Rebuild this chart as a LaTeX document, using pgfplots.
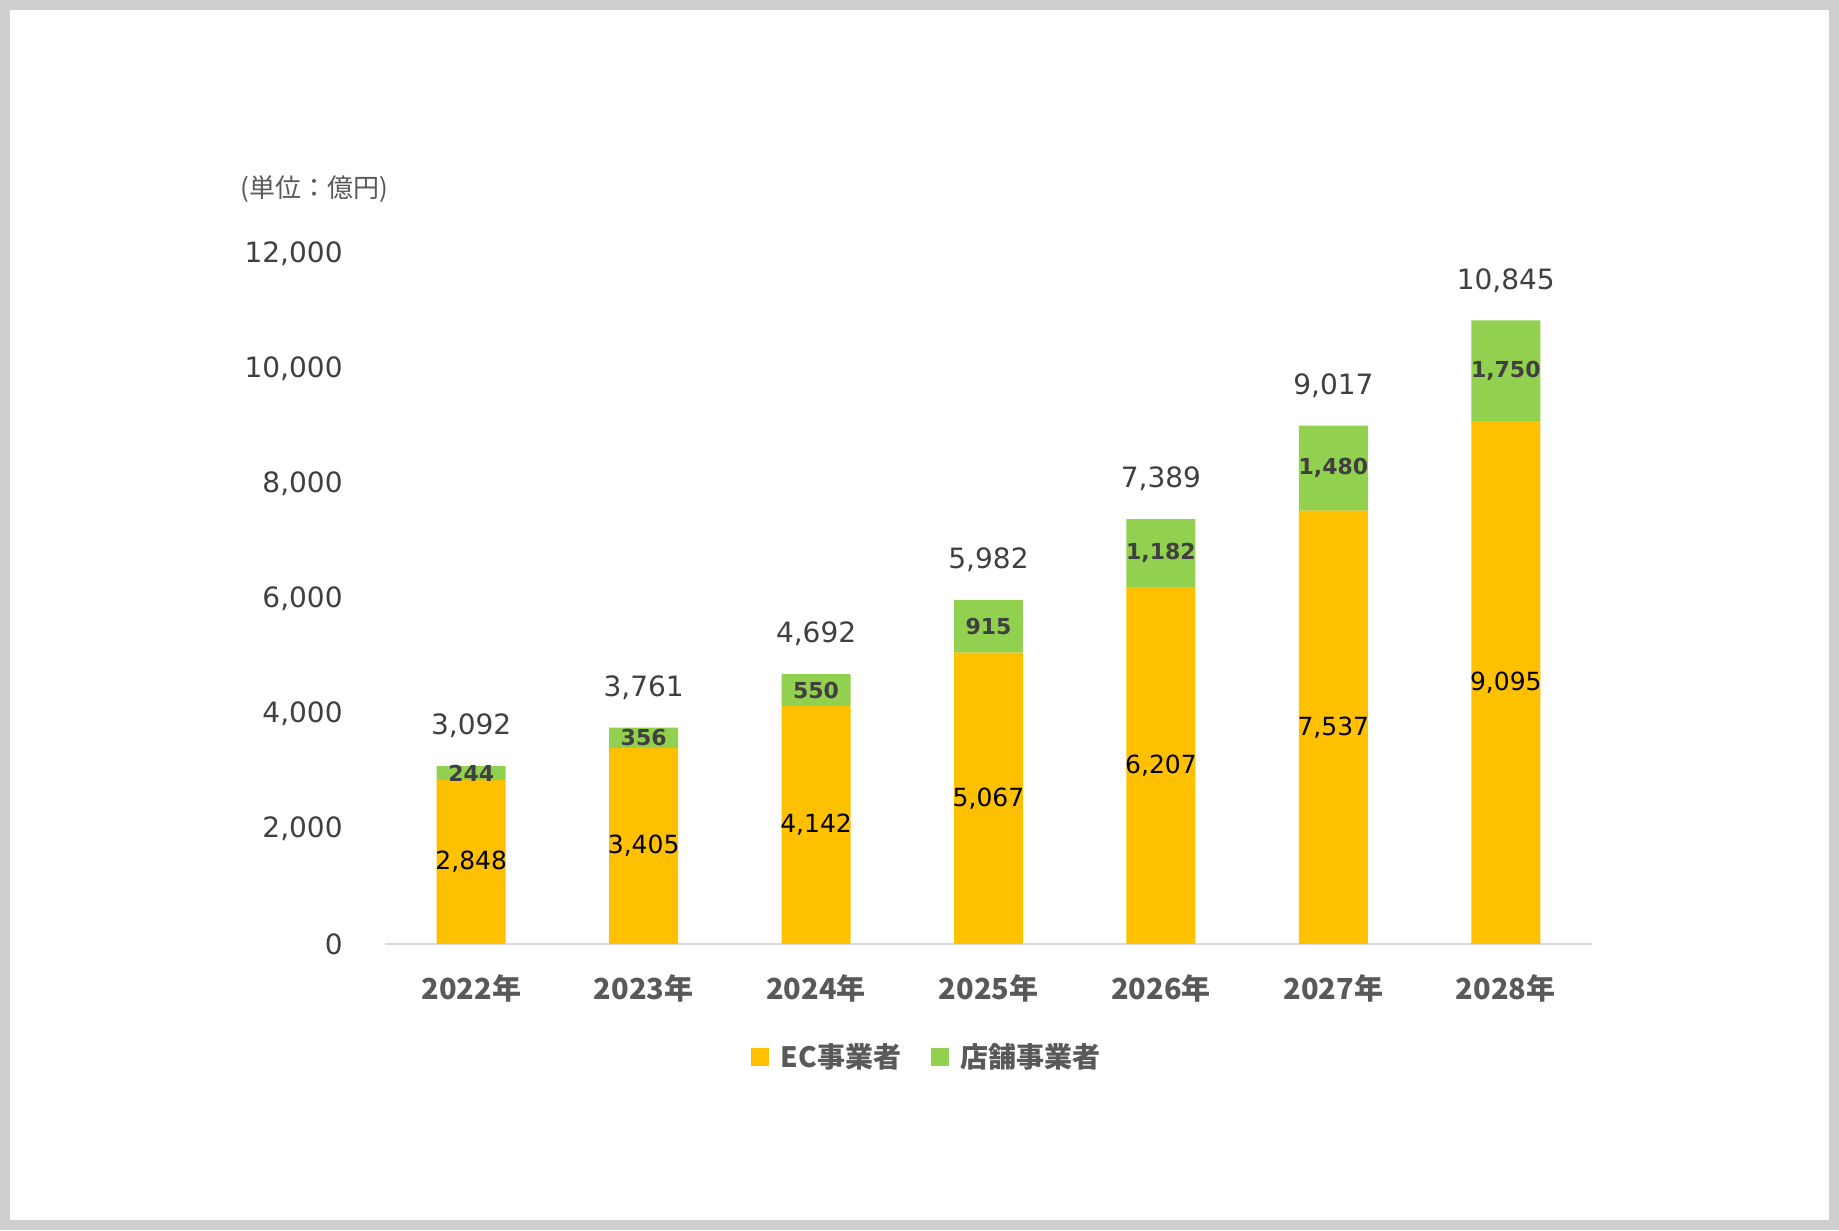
\documentclass[border=0pt]{standalone}
\usepackage{fontspec}
\setmainfont{DejaVu Sans}
\newfontfamily\jp{Noto Sans CJK JP}
\usepackage{pgfplots}
\usepackage{pgfplotstable}
\pgfplotsset{compat=1.18}
\definecolor{ecColor}{RGB}{255,192,0}
\definecolor{shopColor}{RGB}{146,208,80}
\definecolor{frameColor}{RGB}{208,207,208}
\definecolor{darkText}{RGB}{64,64,64}
\definecolor{midText}{RGB}{89,89,89}
\definecolor{baseColor}{RGB}{217,217,217}

% market size, 100 million yen
\pgfplotstableread{
x ec shop
0 2848 244
1 3405 356
2 4142 550
3 5067 915
4 6207 1182
5 7537 1480
6 9095 1750
}\sales

% label positions (segment middles and totals)
\pgfplotstableread{
x ecmid ec shopmid shop total
0 1424   2848 2970   244  3092
1 1702.5 3405 3583   356  3761
2 2071   4142 4417   550  4692
3 2533.5 5067 5524.5 915  5982
4 3103.5 6207 6798   1182 7389
5 3768.5 7537 8277   1480 9017
6 4547.5 9095 9970   1750 10845
}\labels

\pgfplotsset{
  common/.style={
    scale only axis,
    width=603.5pt, height=345pt,
    at={(192.5pt,143pt)}, anchor=south west,
    xmin=-0.5, xmax=6.5, ymin=0, ymax=12000,
    /pgf/number format/assume math mode=true,
  },
}

\begin{document}
\begin{tikzpicture}
\fill[frameColor] (0,0) rectangle (919.5pt,615pt);
\fill[white] (5pt,5pt) rectangle (914.5pt,610pt);

\begin{axis}[
    common,
    ybar stacked,
    bar width=0.4,
    axis x line*=bottom,
    axis y line*=left,
    x axis line style={draw=baseColor, line width=0.8pt},
    y axis line style={draw=none},
    tick style={draw=none},
    xtick={0,...,6},
    xticklabels={2022年,2023年,2024年,2025年,2026年,2027年,2028年},
    xticklabel style={font={\jp\bfseries\fontsize{14.5pt}{16pt}\selectfont}, text=midText, anchor=center, yshift=-22pt},
    ytick={0,2000,...,12000},
    scaled y ticks=false,
    yticklabel style={font=\fontsize{14pt}{16pt}\selectfont, text=darkText, inner sep=0pt, xshift=-21pt},
    title={(単位：億円)},
    title style={at={(-0.12,1.077)}, anchor=west, yshift=0pt, inner sep=0pt, font={\jp\fontsize{13pt}{15pt}\selectfont}, text=midText},
    legend style={at={(0.450,-0.164)}, anchor=center, draw=none, fill=none,
      legend columns=2, font={\jp\bfseries\fontsize{14pt}{16pt}\selectfont}, text=midText,
      /tikz/every even column/.append style={column sep=13pt}},
    legend image code/.code={\fill[#1] (0pt,-4.5pt) rectangle (9pt,4.5pt); \path (12.8pt,0pt);},
]
\addplot[fill=ecColor, draw=none] table[x=x, y=ec] {\sales};
\addplot[fill=shopColor, draw=none] table[x=x, y=shop] {\sales};
\legend{EC事業者, 店舗事業者}
\end{axis}

\begin{axis}[common, hide axis]
\addplot[draw=none, mark=none, point meta=explicit, nodes near coords,
  nodes near coords style={anchor=center, text=black, font=\fontsize{12.5pt}{14pt}\selectfont}]
  table[x=x, y=ecmid, meta=ec] {\labels};
\addplot[draw=none, mark=none, point meta=explicit, nodes near coords,
  nodes near coords style={anchor=center, text=darkText, font=\bfseries\fontsize{11pt}{13pt}\selectfont}]
  table[x=x, y=shopmid, meta=shop] {\labels};
\addplot[draw=none, mark=none, point meta=explicit, nodes near coords,
  nodes near coords style={anchor=center, yshift=20pt, text=darkText, font=\fontsize{14pt}{16pt}\selectfont}]
  table[x=x, y=total, meta=total] {\labels};
\end{axis}

\pgfresetboundingbox
\path[use as bounding box] (0,0) rectangle (919.5pt,615pt);
\end{tikzpicture}
\end{document}
